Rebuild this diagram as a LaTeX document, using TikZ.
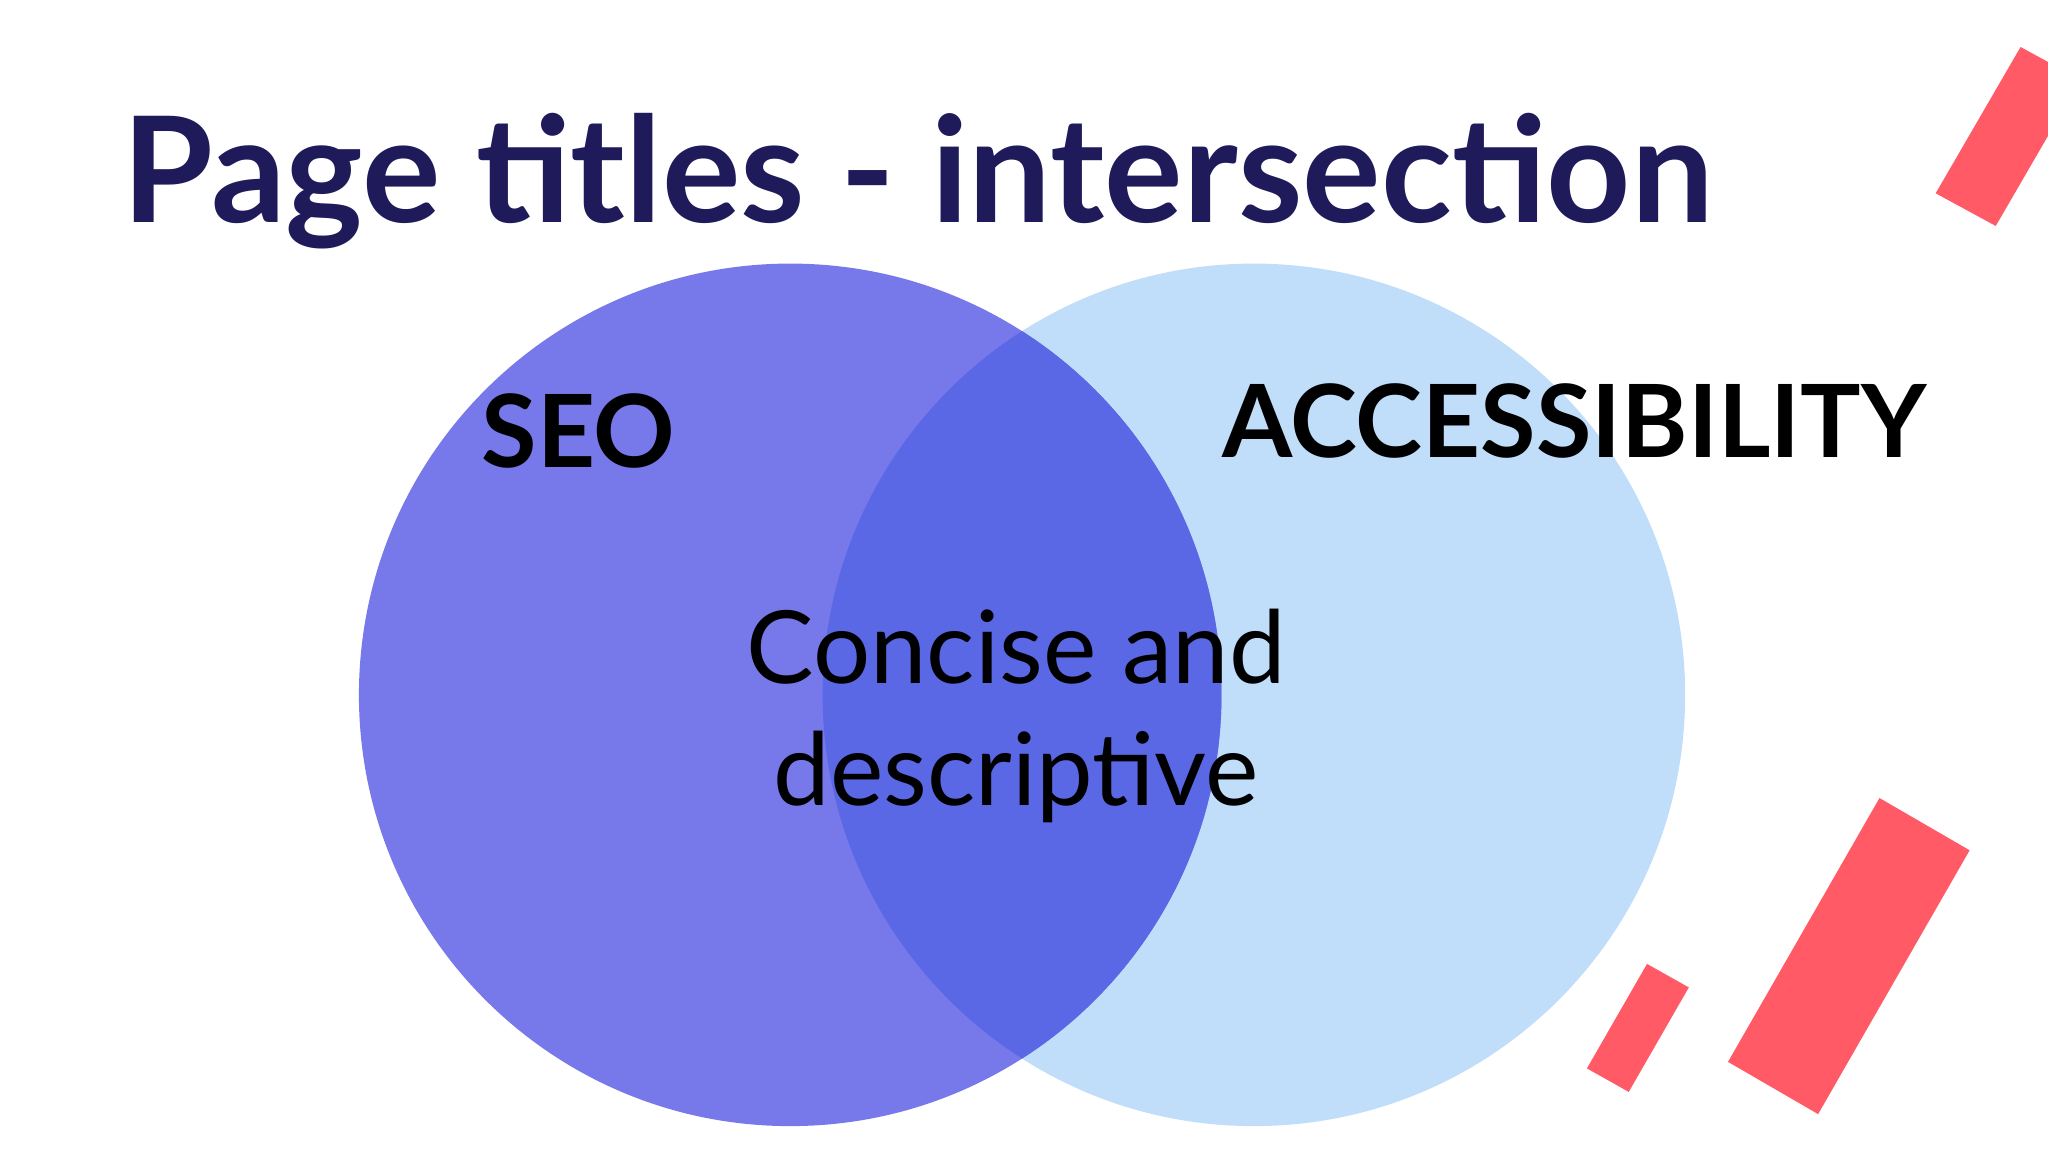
\documentclass[tikz,border=0pt]{standalone}
\usepackage{fontspec}
\setmainfont{Lato}
\definecolor{navy}{HTML}{1F1A5A}
\definecolor{seo}{HTML}{7779EA}
\definecolor{acc}{HTML}{C0DEFA}
\definecolor{both}{HTML}{5A68E6}
\definecolor{redbar}{HTML}{FF5A65}
\begin{document}
\begin{tikzpicture}[x=0.01cm,y=-0.01cm,
  bar/.style={fill=redbar,draw=none},
  lbl/.style={font=\fontsize{22}{26}\selectfont\bfseries,text=black,inner sep=0}]
\useasboundingbox (0,0) rectangle (1568,882);
\clip (0,0) rectangle (1568,882);
\fill[white] (0,0) rectangle (1568,882);
\fill[acc] (960,532) circle[radius=3.3cm];
\fill[seo] (605,532) circle[radius=3.3cm];
\begin{scope}
\clip (960,532) circle[radius=3.3cm];
\fill[both] (605,532) circle[radius=3.3cm];
\end{scope}
\node[anchor=base west,inner sep=0,text=navy,font=\fontsize{32}{36}\selectfont\bfseries] (title) at (93,170) {Page titles - intersection};
\node[lbl,anchor=base west] (seo) at (368,358) {SEO};
\node[lbl,anchor=base west] (acc) at (935,350) {ACCESSIBILITY};
\node[inner sep=0,align=center,font=\fontsize{22}{26.5}\selectfont,text=black] (mid) at (778,548) {Concise and\\descriptive};
\fill[bar] (1482,148) -- (1547,36) -- (1593,61) -- (1528,173) -- cycle;
\fill[bar] (1323,813) -- (1439,611) -- (1508,651) -- (1392,853) -- cycle;
\fill[bar] (1215,818) -- (1261,738) -- (1293,756) -- (1247,836) -- cycle;
\end{tikzpicture}
\end{document}
